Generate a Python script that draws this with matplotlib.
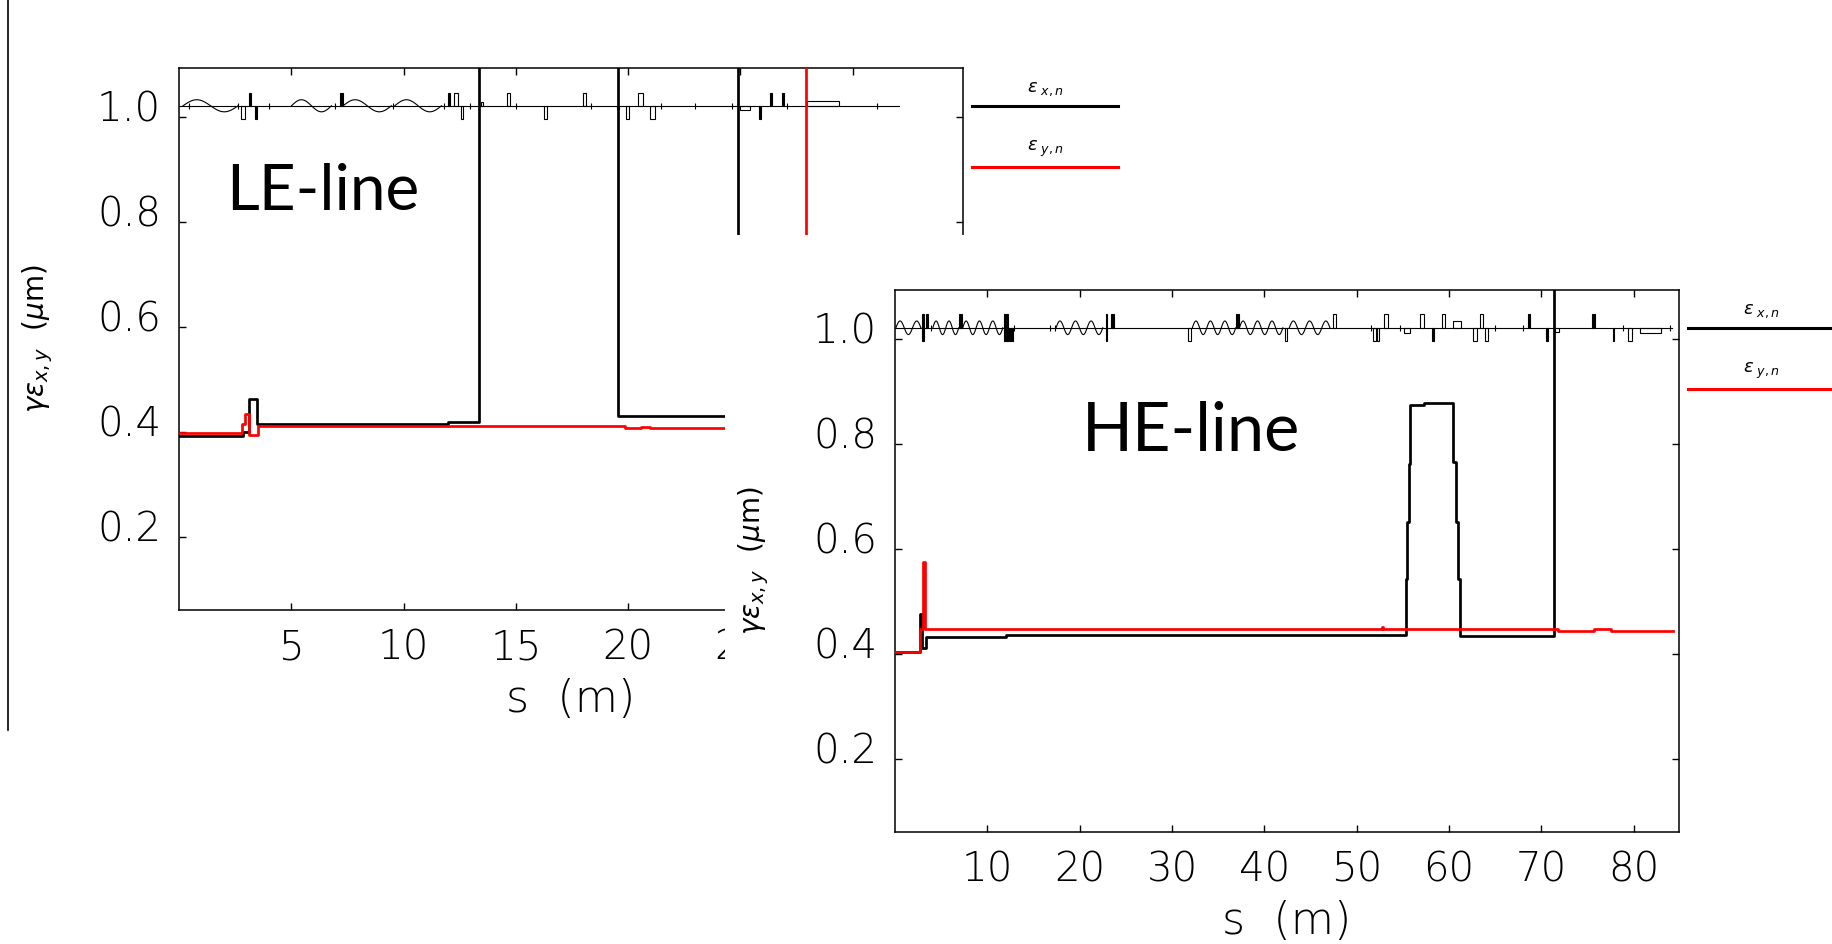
import numpy as np
import matplotlib
matplotlib.use('Agg')
import matplotlib.pyplot as plt
from matplotlib.lines import Line2D
from matplotlib.patches import Rectangle
from matplotlib.transforms import ScaledTranslation

# ---- LE-line: normalised emittance vs s (step values, held until next s)
le_s = [0.0, 2.83, 3.10, 3.47, 12.0, 13.37, 19.56, 24.91, 32.1]
le_ex = [0.391, 0.399, 0.463, 0.415, 0.418, 2.5, 0.430, 2.5, 2.5]
le_s_y = [0.0, 2.79, 2.93, 3.10, 3.51, 19.87, 20.6, 21.0, 27.91, 32.1]
le_ey = [0.398, 0.415, 0.433, 0.393, 0.411, 0.406, 0.409, 0.407, 2.5, 2.5]

# LE lattice: cavities (s0, s1, periods), magnets (s0, s1, height, filled), monitors
le_cav = [(0.18, 2.63, 1), (5.01, 6.79, 1), (7.31, 9.46, 1), (9.61, 11.69, 1)]
le_mag = [(2.75, 2.93, -0.026, 0), (3.11, 3.22, 0.025, 1), (3.37, 3.47, -0.026, 1),
          (7.19, 7.31, 0.025, 1), (11.96, 12.08, 0.025, 1), (12.26, 12.43, 0.025, 0),
          (12.55, 12.67, -0.026, 0), (13.46, 13.56, 0.008, 0), (14.59, 14.74, 0.025, 0),
          (16.25, 16.40, -0.026, 0), (18.00, 18.15, 0.025, 0), (19.50, 19.60, -0.006, 1),
          (19.90, 20.04, -0.026, 0), (20.43, 20.65, 0.025, 0), (21.00, 21.20, -0.026, 0),
          (24.99, 25.43, -0.008, 0), (25.83, 25.91, -0.026, 1), (26.32, 26.42, 0.025, 1),
          (26.84, 26.93, 0.025, 1), (27.96, 29.41, 0.010, 0)]
le_bpm = [0.43, 2.63, 4.01, 6.94, 9.54, 11.81, 12.95, 15.0, 18.33, 21.45, 22.98, 24.62, 27.08, 31.08]
le_end = 32.09

# ---- HE-line
he_s = [0.0, 2.68, 2.93, 3.35, 12.07, 55.3, 55.45, 55.7, 55.8, 57.3, 60.4, 60.77, 61.0, 61.2, 71.4, 84.2]
he_ex = [0.404, 0.475, 0.41, 0.432, 0.435, 0.542, 0.651, 0.761, 0.874, 0.877, 0.766, 0.651, 0.542,
         0.434, 2.5, 2.5]
he_s_y = [0.0, 2.68, 3.05, 3.30, 52.7, 52.85, 71.8, 75.7, 77.5, 84.2]
he_ey = [0.404, 0.447, 0.575, 0.447, 0.450, 0.446, 0.443, 0.446, 0.443, 0.443]

he_cav = [(0.1, 2.8, 1.5), (4.1, 6.9, 2), (7.34, 11.67, 3), (17.44, 22.5, 3),
          (32.2, 36.9, 3), (37.3, 42.0, 3), (42.7, 47.1, 2.5)]
he_mag = [(2.94, 3.19, 0.026, 1), (2.94, 3.19, -0.026, 1), (3.37, 3.55, 0.026, 1),
          (6.98, 7.26, 0.026, 1), (11.78, 12.22, 0.026, 1), (11.78, 12.22, -0.026, 1),
          (12.22, 12.76, -0.026, 1), (22.8, 23.0, 0.026, 1), (22.8, 23.0, -0.026, 1),
          (23.4, 23.75, 0.026, 1), (31.7, 32.0, -0.026, 0), (36.9, 37.3, 0.026, 1),
          (42.2, 42.5, -0.026, 0), (47.4, 47.8, 0.026, 0), (51.8, 52.1, -0.026, 0),
          (52.2, 52.4, -0.026, 0), (53.0, 53.4, 0.026, 0), (55.1, 55.8, -0.010, 0),
          (56.8, 57.3, 0.026, 0), (58.2, 58.4, -0.026, 1), (59.2, 59.6, 0.026, 0),
          (60.4, 61.3, 0.012, 0), (62.6, 63.0, -0.026, 0), (63.3, 63.7, 0.026, 0),
          (63.9, 64.2, -0.026, 0), (68.5, 68.8, 0.026, 1), (70.5, 70.7, -0.026, 1),
          (71.5, 71.9, -0.008, 0), (75.5, 75.8, 0.026, 1), (77.7, 77.9, -0.026, 1),
          (79.4, 79.8, -0.026, 0), (80.7, 83.0, -0.010, 0)]
he_bpm = [3.9, 12.9, 16.8, 17.3, 51.5, 54.7, 65.0, 68.0, 78.85, 83.9]
he_end = 84.1

lattice_y = 1.021
y_ticks = [0.2, 0.4, 0.6, 0.8, 1.0]
y_labels = ['0.2', '0.4', '0.6', '0.8', '1.0']
le_xticks = [5, 10, 15, 20, 25, 30]
he_xticks = [10, 20, 30, 40, 50, 60, 70, 80]

W, H = 1833, 944
fig = plt.figure(figsize=(W / 100, H / 100), dpi=100)
tick_font = dict(family='DejaVu Sans', weight='light')


def draw_lattice(ax, cav, mag, bpm, end, amp):
    ax.plot([0, end], [lattice_y, lattice_y], color='k', lw=0.8, zorder=2)
    for s0, s1, n in cav:
        t = np.linspace(0, 1, 80)
        ax.plot(s0 + (s1 - s0) * t, lattice_y + amp * np.sin(2 * np.pi * n * t),
                color='k', lw=0.8, zorder=2)
    for s0, s1, h, filled in mag:
        ax.add_patch(Rectangle((s0, lattice_y), s1 - s0, h, facecolor='k' if filled else 'none',
                               edgecolor='k', lw=0.8, zorder=2))
    ax.plot(bpm, [lattice_y] * len(bpm), ls='none', marker='|', ms=5, mew=0.8, color='k', zorder=2)


def setup(ax, xlim, xticks):
    ax.set_xlim(*xlim)
    ax.set_ylim(0.06, 1.093)
    ax.set_xticks(xticks)
    ax.set_xticklabels([str(v) for v in xticks], fontsize=29, **tick_font)
    ax.set_yticks(y_ticks)
    ax.set_yticklabels(y_labels, fontsize=29, **tick_font)
    ax.tick_params(direction='in', length=5, width=1, top=True, right=True, pad=13)
    for sp in ax.spines.values():
        sp.set_linewidth(1.1)
    for lab in ax.get_yticklabels():
        lab.set_transform(lab.get_transform() + ScaledTranslation(0, 0.11, fig.dpi_scale_trans))
    ax.set_xlabel('s  (m)', fontsize=32, **tick_font)
    ax.set_ylabel(r'$\gamma\varepsilon_{x,y}$  ($\mu$m)', fontsize=20)
    ax.xaxis.set_label_coords(0.5, -0.165)
    ax.yaxis.set_label_coords(-0.18, 0.5)
    ax.xaxis.label.set_va('center')
    ax.yaxis.label.set_va('center')
    # key on the right of the frame
    ax.plot([1.011, 1.198], [0.929, 0.929], transform=ax.transAxes, color='k', lw=2.2, clip_on=False)
    ax.plot([1.011, 1.198], [0.818, 0.818], transform=ax.transAxes, color='red', lw=2.2, clip_on=False)
    ax.text(1.105, 0.944, r'$\varepsilon_{\ x,n}$', transform=ax.transAxes, ha='center', va='bottom',
            fontsize=13)
    ax.text(1.105, 0.832, r'$\varepsilon_{\ y,n}$', transform=ax.transAxes, ha='center', va='bottom',
            fontsize=13)


# LE-line panel
ax1 = fig.add_axes([179 / W, 1 - 610 / H, 784 / W, 542 / H])
ax1.set_zorder(0)
setup(ax1, (0, 34.92), le_xticks)
draw_lattice(ax1, le_cav, le_mag, le_bpm, le_end, 0.0115)
ax1.plot(le_s, le_ex, drawstyle='steps-post', color='k', lw=1.95, zorder=3)
ax1.plot(le_s_y, le_ey, drawstyle='steps-post', color='red', lw=1.95, zorder=4)
ax1.text(2.08, 0.823, 'LE-line', fontsize=46, family='Lato', va='baseline')

# white backing of the second picture pasted over the first
fig.add_artist(Rectangle((725 / W, 0), 1, 1 - 235 / H, transform=fig.transFigure,
                         facecolor='white', edgecolor='none', zorder=1))

# HE-line panel
ax2 = fig.add_axes([895 / W, 1 - 832 / H, 784 / W, 542 / H])
ax2.set_zorder(2)
setup(ax2, (0, 84.9), he_xticks)
draw_lattice(ax2, he_cav, he_mag, he_bpm, he_end, 0.013)
ax2.plot(he_s, he_ex, drawstyle='steps-post', color='k', lw=1.95, zorder=3)
ax2.plot(he_s_y, he_ey, drawstyle='steps-post', color='red', lw=1.95, zorder=4)
ax2.text(20.2, 0.787, 'HE-line', fontsize=48, family='Lato', va='baseline')

# slide separator line on the far left
fig.add_artist(Line2D([8 / W, 8 / W], [1, 1 - 730 / H], transform=fig.transFigure, color='k', lw=1.2))

fig.savefig('out.png', dpi=100)
